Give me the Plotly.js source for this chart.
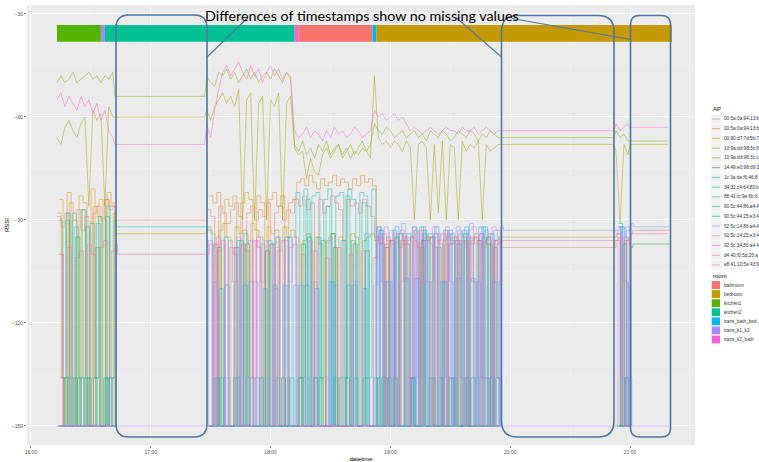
<!DOCTYPE html>
<html><head><meta charset="utf-8">
<script src="https://cdn.plot.ly/plotly-3.0.1.min.js"></script>
<style>html,body{margin:0;padding:0;background:#fff}#chart{width:759px;height:462px}</style>
</head><body><div id="chart"></div>
<script>
const day = '2017-05-01';
const times = [
 '16:13','16:15','16:17','16:19','16:21','16:23','16:25','16:27','16:29','16:31','16:33','16:35','16:37','16:39','16:41',
 '16:42','17:27',
 '17:28','17:30','17:32','17:34','17:36','17:38','17:40','17:42','17:44','17:46','17:48','17:50','17:52','17:54','17:56','17:58','18:00','18:02','18:04','18:06','18:08','18:10',
 '18:12','18:14','18:16','18:18','18:20','18:22','18:24','18:26','18:28','18:30','18:32','18:34','18:36','18:38','18:40','18:42','18:44','18:46','18:48','18:50',
 '18:52','18:54','18:56','18:58','19:00','19:02','19:04','19:06','19:08','19:10','19:12','19:14','19:16','19:18','19:20','19:22','19:24','19:26','19:28','19:30','19:32','19:34','19:36','19:38','19:40','19:42','19:44','19:46','19:48','19:50','19:52','19:54',
 '19:55','20:52',
 '20:53','20:55','20:57','20:59',
 '21:00','21:19'
];

const apNames = ['00:5a:0a:94:13:b','00:5a:0a:94:13:b','00:90:d7:7d:5b:7','10:9a:dd:98:3c:6','10:9a:dd:98:3c:c','14:49:e0:98:d9:3','1c:3a:de:f6:46:8','34:31:c4:64:80:b','88:41:fc:9e:6b:6','90:5c:44:86:a4:4','90:5c:44:25:e3:4','92:5c:14:86:a4:4','92:5c:14:25:e3:4','92:5c:34:86:a4:4','d4:40:f0:5d:26:a','e8:41:10:5e:43:9'];
const apColors = ['#F8766D','#E68613','#CD9600','#ABA300','#7CAE00','#0CB702','#00BE67','#00C19A','#00BFC4','#00B8E7','#00A9FF','#8494FF','#C77CFF','#ED68ED','#FF61CC','#FF68A1'];
const apShapes = ['hv','hv','hv','linear','linear','hv','hv','hv','hv','hv','hv','hv','hv','hv','linear','hv'];
// seconds after each scan tick at which each AP was heard
const apScanOffsetSec = [0,64,8,0,0,88,24,104,40,72,16,96,56,32,0,80];

const ap01 = [-89,-92,-88,-150,-90,-87,-93,-89,-150,-88,-86,-90,-84,-87,-85,
 -90,-90,
 -87,-89,-150,-86,-88,-91,-87,-85,-89,-150,-88,-86,-90,-87,-89,-85,-150,-88,-86,-90,-87,-88,
 -84,-86,-83,-87,-85,-150,-84,-88,-86,-83,-85,-87,-150,-84,-86,-85,-88,-84,-86,-89,
 -95,-97,-94,-96,-150,-95,-98,-94,-96,-95,-150,-97,-94,-96,-95,-98,-150,-96,-94,-97,-95,-96,-150,-94,-97,-95,-96,-98,-95,-150,-96,-97,
 -98,-98, -96,-150,-95,-97, -94,-94];
const ap02 = [-84,-150,-82,-136,-150,-83,-85,-150,-81,-136,-84,-150,-82,-86,-150,
 null,null,
 -83,-85,-82,-150,-84,-86,-83,-150,-85,-82,-84,-136,-83,-85,-150,-84,-82,-86,-83,-150,-85,-84,
 -79,-78,-80,-77,-79,-81,-78,-80,-79,-77,-80,-78,-79,-81,-78,-80,-77,-79,-78,-80,
 -150,-150,-97,-150,-150,-150,-96,-150,-150,-150,-150,-98,-150,-150,-150,-150,-150,-97,-150,-150,-150,-150,-96,-150,-150,-150,-150,-150,-97,-150,-150,-150,
 null,null, -150,-150,-150,-150, null,null];
const ap03 = [-88,-136,-150,-85,-90,-150,-87,-136,-150,-86,-89,-150,-84,-150,-88,
 -94,-94,
 -92,-94,-150,-93,-91,-95,-150,-92,-94,-93,-150,-91,-93,-95,-150,-92,-94,-93,-150,-92,-95,-93,
 -95,-150,-96,-94,-150,-95,-97,-150,-96,-94,-150,-95,-96,-150,-94,-95,-150,-96,-95,-94,
 -96,-94,-150,-95,-97,-150,-94,-96,-150,-95,-93,-150,-96,-95,-150,-94,-97,-150,-95,-96,-150,-94,-95,-150,-96,-94,-150,-95,-97,-150,-96,-95,
 -95,-95, -94,-150,-96,-95, null,null];
const ap04 = [-66,-68,-63,-61,-64,-66,-62,-60,-86,-58,-61,-59,-86,-57,-60,
 -60,-60,
 -58,-61,-57,-55,-53,-56,-54,-57,-52,-90,-55,-53,-90,-56,-54,-90,-55,-57,-53,-90,-56,-54,
 -69,-71,-70,-78,-72,-76,-77,-71,-69,-72,-70,-68,-71,-69,-72,-70,-71,-69,-70,-72,
 -48,-66,-68,-67,-69,-67,-68,-70,-67,-69,-90,-68,-67,-69,-90,-68,-88,-67,-90,-68,-69,-90,-67,-70,-68,-69,-67,-90,-68,-70,-69,-68,
 -68,-68, -70,-91,-68,-71, -68,-68];
const ap05 = [-50,-48,-50,-49,-47,-50,-49,-48,-47,-49,-48,-50,-48,-49,-47,
 -54,-54,
 -48,-50,-51,-47,-48,-46,-49,-47,-50,-48,-46,-49,-47,-50,-48,-47,-49,-46,-48,-50,-47,-49,
 -68,-70,-67,-71,-69,-72,-68,-70,-67,-71,-69,-68,-72,-70,-68,-71,-69,-67,-70,-68,
 -62,-64,-65,-63,-64,-66,-65,-64,-66,-65,-64,-66,-65,-67,-64,-65,-66,-64,-65,-67,-66,-64,-65,-66,-64,-65,-67,-65,-66,-64,-65,-66,
 -66,-66, -64,-66,-65,-67, -67,-67];
const ap06 = [-150,-136,-150,-150,-95,-150,-136,-150,-150,-98,-150,-136,-150,-150,-150,
 null,null,
 -150,-150,-98,-150,-150,-150,-136,-150,-150,-97,-150,-150,-150,-150,-99,-150,-150,-150,-136,-150,-150,-150,
 -150,-97,-150,-150,-136,-150,-96,-150,-150,-98,-150,-150,-136,-150,-97,-150,-150,-99,-150,-150,
 -136,-150,-98,-150,-136,-150,-150,-97,-136,-150,-150,-96,-150,-136,-150,-98,-150,-150,-136,-150,-97,-150,-136,-150,-150,-96,-136,-150,-150,-98,-136,-150,
 null,null, -150,-97,-150,-98, -97,-97];
const ap07 = [-150,-150,-90,-150,-136,-150,-150,-92,-150,-136,-150,-150,-89,-150,-150,
 null,null,
 -150,-150,-150,-136,-150,-150,-150,-150,-96,-150,-150,-150,-150,-136,-150,-150,-150,-95,-150,-150,-150,-150,
 -150,-136,-150,-95,-150,-150,-136,-150,-150,-94,-150,-136,-150,-150,-96,-150,-150,-136,-150,-150,
 -150,-150,-136,-150,-150,-95,-150,-150,-150,-136,-150,-150,-94,-150,-150,-150,-136,-150,-150,-150,-96,-150,-150,-150,-136,-150,-150,-150,-95,-150,-150,-150,
 null,null, -150,-150,-136,-150, null,null];
const ap08 = [-136,-150,-150,-88,-150,-136,-150,-150,-150,-91,-150,-150,-136,-150,-87,
 null,null,
 -150,-136,-150,-150,-150,-150,-98,-150,-150,-150,-136,-150,-150,-150,-150,-97,-150,-150,-150,-150,-136,-150,
 -136,-150,-84,-150,-136,-150,-150,-86,-150,-136,-150,-150,-83,-150,-136,-150,-85,-150,-150,-136,
 -150,-150,-150,-96,-150,-150,-150,-150,-136,-150,-150,-150,-150,-95,-150,-150,-150,-150,-150,-136,-150,-150,-150,-95,-150,-150,-150,-150,-136,-150,-150,-150,
 null,null, -150,-150,-150,-150, null,null];
const ap09 = [-90,-136,-88,-150,-92,-136,-87,-150,-91,-136,-89,-150,-86,-136,-90,
 -92,-92,
 -93,-150,-136,-150,-95,-150,-150,-136,-150,-94,-150,-150,-136,-150,-150,-96,-150,-136,-150,-150,-95,-150,
 -82,-136,-81,-150,-83,-82,-136,-84,-81,-150,-83,-82,-136,-81,-84,-150,-82,-83,-136,-81,
 -150,-93,-150,-136,-150,-150,-94,-150,-150,-136,-150,-92,-150,-150,-136,-150,-150,-93,-150,-136,-150,-150,-94,-150,-150,-136,-150,-92,-150,-150,-136,-150,
 null,null, -92,-150,-136,-150, null,null];
const ap10 = [-150,-150,-136,-150,-150,-150,-150,-136,-150,-150,-150,-150,-150,-136,-150,
 null,null,
 -150,-97,-150,-150,-109,-150,-150,-96,-150,-150,-108,-150,-150,-97,-150,-150,-109,-150,-150,-95,-150,-150,
 -150,-150,-109,-150,-150,-95,-150,-150,-108,-150,-150,-96,-150,-150,-109,-150,-150,-94,-150,-150,
 -92,-150,-108,-150,-93,-150,-150,-107,-150,-92,-150,-108,-150,-94,-150,-150,-108,-150,-93,-150,-107,-150,-92,-150,-150,-108,-150,-93,-150,-108,-150,-92,
 null,null, -91,-150,-93,-150, null,null];
const ap11 = [-150,-150,-150,-150,-150,-136,-150,-150,-150,-150,-150,-150,-136,-150,-150,
 null,null,
 -150,-150,-150,-110,-150,-150,-150,-150,-150,-109,-150,-150,-150,-150,-110,-150,-150,-150,-150,-109,-150,-150,
 -150,-109,-150,-150,-150,-110,-150,-150,-150,-108,-150,-150,-150,-109,-150,-150,-150,-110,-150,-150,
 -150,-93,-150,-108,-150,-92,-150,-150,-94,-150,-107,-150,-93,-150,-150,-92,-150,-108,-150,-94,-150,-150,-93,-150,-107,-150,-92,-150,-150,-94,-150,-108,
 null,null, -150,-92,-150,-108, null,null];
const ap12 = [-150,-150,-150,-150,-150,-150,-150,-150,-150,-150,-150,-150,-150,-150,-150,
 null,null,
 -150,-108,-150,-150,-136,-150,-109,-150,-150,-136,-150,-108,-150,-150,-136,-150,-110,-150,-150,-136,-150,-109,
 -150,-150,-136,-150,-108,-150,-150,-136,-150,-109,-150,-150,-136,-150,-108,-150,-150,-136,-150,-109,
 -92,-108,-150,-93,-136,-150,-91,-108,-150,-93,-136,-92,-150,-108,-94,-150,-136,-92,-108,-150,-93,-136,-150,-91,-108,-150,-92,-136,-150,-93,-108,-92,
 -93,-93, -92,-108,-150,-91, -92,-92];
const ap13 = [-100,-150,-150,-150,-150,-150,-150,-150,-150,-150,-150,-150,-150,-150,-150,
 -150,-150,
 -96,-150,-95,-97,-150,-96,-108,-95,-150,-97,-96,-150,-95,-108,-96,-150,-97,-95,-150,-96,-108,-95,
 -150,-150,-150,-96,-150,-150,-150,-150,-95,-150,-150,-150,-150,-150,-97,-150,-150,-150,-150,-150,
 -93,-150,-92,-108,-150,-94,-93,-150,-136,-92,-150,-93,-108,-150,-92,-94,-150,-93,-136,-150,-92,-108,-150,-93,-92,-150,-94,-136,-150,-92,-93,-150,
 -150,-150, -93,-150,-92,-136, -150,-150];
const ap14 = [-150,-150,-150,-150,-150,-150,-150,-150,-150,-150,-150,-150,-150,-150,-150,
 null,null,
 -150,-150,-97,-150,-150,-150,-150,-98,-150,-150,-150,-150,-96,-150,-150,-150,-150,-98,-150,-150,-150,-150,
 -150,-150,-150,-150,-150,-150,-150,-150,-150,-150,-150,-150,-150,-150,-150,-150,-150,-150,-150,-150,
 -150,-95,-136,-150,-96,-150,-108,-95,-150,-136,-94,-150,-96,-108,-150,-95,-136,-150,-94,-150,-96,-136,-150,-95,-108,-150,-94,-150,-136,-96,-150,-95,
 null,null, -94,-136,-150,-95, null,null];
const ap15 = [-55,-53,-57,-54,-56,-58,-54,-57,-55,-59,-56,-61,-58,-64,-66,
 -68,-68,
 -62,-66,-58,-52,-47,-45,-48,-46,-44,-47,-49,-45,-48,-46,-50,-47,-45,-48,-46,-49,-47,-48,
 -64,-66,-65,-63,-66,-64,-65,-67,-64,-66,-63,-65,-64,-66,-65,-63,-64,-66,-65,-64,
 -58,-60,-59,-61,-60,-59,-61,-60,-62,-64,-63,-64,-65,-64,-63,-64,-65,-64,-63,-64,-64,-65,-63,-64,-64,-63,-65,-64,-63,-64,-65,-64,
 -64,-64, -62,-64,-63,-62, -63,-63];
const ap16 = [-100,-150,-98,-150,-101,-99,-150,-97,-100,-150,-98,-96,-150,-99,-97,
 -100,-100,
 -97,-150,-99,-96,-150,-98,-100,-150,-97,-99,-150,-96,-98,-150,-100,-97,-150,-99,-96,-150,-98,-97,
 -150,-100,-150,-150,-99,-150,-150,-101,-150,-150,-98,-150,-150,-100,-150,-150,-99,-150,-150,-101,
 -95,-97,-150,-96,-94,-150,-97,-95,-150,-96,-98,-150,-95,-97,-150,-96,-94,-150,-97,-95,-150,-96,-98,-150,-95,-97,-150,-96,-94,-150,-97,-96,
 -96,-96, -95,-150,-96,-94, -93,-93];
const apSeries = [ap01,ap02,ap03,ap04,ap05,ap06,ap07,ap08,ap09,ap10,ap11,ap12,ap13,ap14,ap15,ap16];

const roomSegments = ['kitchen1','trans_k1_k2','kitchen2','trans_k2_bath','bathroom','trans_bath_bed','bedroom'];
const roomStart = ['16:13','16:35','16:37','18:12','18:14','18:51','18:53'];
const roomEnd   = ['16:35','16:37','18:12','18:14','18:51','18:53','21:21'];
const roomLegend = ['bathroom','bedroom','kitchen1','kitchen2','trans_bath_bed','trans_k1_k2','trans_k2_bath'];
const roomColors = ['#F8766D','#C49A00','#53B400','#00C094','#00B6EB','#A58AFF','#FB61D7'];
const roomBarTop = -33.2, roomBarBottom = -38.1;

apSeries.forEach((s,i)=>{ if(s.length!==times.length) throw new Error('series '+(i+1)+' has length '+s.length+' expected '+times.length); });

function stamp(hhmm, sec){
  const [h,m] = hhmm.split(':').map(Number);
  let tot = h*3600 + m*60 + (sec||0);
  const hh = Math.floor(tot/3600), mm = Math.floor((tot%3600)/60), ss = tot%60;
  const p = n => String(n).padStart(2,'0');
  return day+' '+p(hh)+':'+p(mm)+':'+p(ss);
}

const traces = [];
roomSegments.forEach((r,i)=>{
  const c = roomColors[roomLegend.indexOf(r)];
  const s = stamp(roomStart[i]), e = stamp(roomEnd[i]);
  traces.push({x:[s,e,e,s,s], y:[roomBarTop,roomBarTop,roomBarBottom,roomBarBottom,roomBarTop],
    mode:'lines', fill:'toself', fillcolor:c, line:{width:0,color:c}, hoverinfo:'skip', showlegend:false});
});
apSeries.forEach((s,i)=>{
  traces.push({x:times.map(t=>stamp(t, apScanOffsetSec[i])), y:s, mode:'lines',
    line:{color:apColors[i], width:0.8, shape:apShapes[i]},
    opacity:0.6, hoverinfo:'skip', showlegend:false, connectgaps:false, name:apNames[i]});
});

const L=27,T=5,W=668,H=440;
const px = p => (p-L)/W, py = p => 1-(p-T)/H;
function rr(x0,y0,x1,y1,r){
  const P=(x,y)=>px(x).toFixed(5)+','+py(y).toFixed(5);
  return 'M'+P(x0+r,y0)+' L'+P(x1-r,y0)+' Q'+P(x1,y0)+' '+P(x1,y0+r)+' L'+P(x1,y1-r)+' Q'+P(x1,y1)+' '+P(x1-r,y1)+
    ' L'+P(x0+r,y1)+' Q'+P(x0,y1)+' '+P(x0,y1-r)+' L'+P(x0,y0+r)+' Q'+P(x0,y0)+' '+P(x0+r,y0)+' Z';
}
const boxColor = '#4F77A3';
const shapes = [];
const annotations = [];
annotations.push({xref:'paper',yref:'paper',x:px(711),y:py(109),xanchor:'left',yanchor:'middle',text:'AP',showarrow:false,font:{size:6,color:'#000'}});
apNames.forEach((n,i)=>{
  const cy = 119 + i*9.73;
  shapes.push({type:'rect',xref:'paper',yref:'paper',x0:px(711),x1:px(721),y0:py(cy-4.6),y1:py(cy+4.6),fillcolor:'#F2F2F2',line:{width:0},layer:'above'});
  shapes.push({type:'line',xref:'paper',yref:'paper',x0:px(712),x1:px(720),y0:py(cy),y1:py(cy),line:{color:apColors[i],width:1},opacity:0.6,layer:'above'});
  annotations.push({xref:'paper',yref:'paper',x:px(722),y:py(cy),xanchor:'left',yanchor:'middle',text:n,showarrow:false,font:{size:4.7,color:'#333'}});
});
annotations.push({xref:'paper',yref:'paper',x:px(711),y:py(276),xanchor:'left',yanchor:'middle',text:'room',showarrow:false,font:{size:6,color:'#000'}});
roomLegend.forEach((n,i)=>{
  const cy = 285 + i*9.08;
  shapes.push({type:'rect',xref:'paper',yref:'paper',x0:px(711.7),x1:px(720),y0:py(cy-3.9),y1:py(cy+3.9),fillcolor:roomColors[i],line:{width:0},layer:'above'});
  annotations.push({xref:'paper',yref:'paper',x:px(722),y:py(cy),xanchor:'left',yanchor:'middle',text:n,showarrow:false,font:{size:4.7,color:'#333'}});
});
shapes.push({type:'path',xref:'paper',yref:'paper',path:rr(116,15,207,437,13),line:{color:boxColor,width:1.6},layer:'above'});
shapes.push({type:'path',xref:'paper',yref:'paper',path:rr(501.5,15.5,614,437,16),line:{color:boxColor,width:1.6},layer:'above'});
shapes.push({type:'path',xref:'paper',yref:'paper',path:rr(630.5,15.5,670.5,437,9),line:{color:boxColor,width:1.6},layer:'above'});
shapes.push({type:'line',xref:'paper',yref:'paper',x0:px(248),y0:py(17.5),x1:px(207),y1:py(57),line:{color:boxColor,width:1.1},layer:'above'});
shapes.push({type:'line',xref:'paper',yref:'paper',x0:px(456),y0:py(17.5),x1:px(501.5),y1:py(57),line:{color:boxColor,width:1.1},layer:'above'});
shapes.push({type:'line',xref:'paper',yref:'paper',x0:px(512),y0:py(18.5),x1:px(630.5),y1:py(39.5),line:{color:boxColor,width:1.1},layer:'above'});
annotations.push({xref:'paper',yref:'paper',x:px(362),y:py(15.5),xanchor:'center',yanchor:'middle',text:'Differences of timestamps show no missing values',showarrow:false,font:{family:'Lato, Open Sans, sans-serif',size:14.3,color:'#000'}});

const layout = {
  width:759, height:462, margin:{l:L,r:759-L-W,t:T,b:462-T-H},
  paper_bgcolor:'#FFFFFF', plot_bgcolor:'#EBEBEB',
  font:{family:'Liberation Sans, Arial, sans-serif', color:'#4D4D4D'},
  showlegend:false,
  xaxis:{type:'date', range:[day+' 15:58:00', day+' 21:32:33'], tickformat:'%H:%M', tick0:day+' 16:00', dtick:3600000,
    ticks:'outside', ticklen:2, tickwidth:0.6, tickcolor:'#333', tickfont:{size:5,color:'#4D4D4D'},
    gridcolor:'#FFFFFF', gridwidth:0.8, minor:{dtick:1800000, gridcolor:'#F5F5F5', gridwidth:0.4, showgrid:true},
    showline:false, zeroline:false, automargin:false,
    title:{text:'datetime', font:{size:6,color:'#000'}, standoff:2}},
  yaxis:{range:[-155.55,-27.38], tick0:-30, dtick:30,
    ticks:'outside', ticklen:2, tickwidth:0.6, tickcolor:'#333', tickfont:{size:5,color:'#4D4D4D'},
    gridcolor:'#FFFFFF', gridwidth:0.8, minor:{dtick:15, gridcolor:'#F5F5F5', gridwidth:0.4, showgrid:true},
    showline:false, zeroline:false, automargin:false,
    title:{text:'RSSI', font:{size:6,color:'#000'}, standoff:1}},
  shapes:shapes, annotations:annotations
};
Plotly.newPlot('chart', traces, layout, {staticPlot:true, displayModeBar:false});
</script></body></html>
